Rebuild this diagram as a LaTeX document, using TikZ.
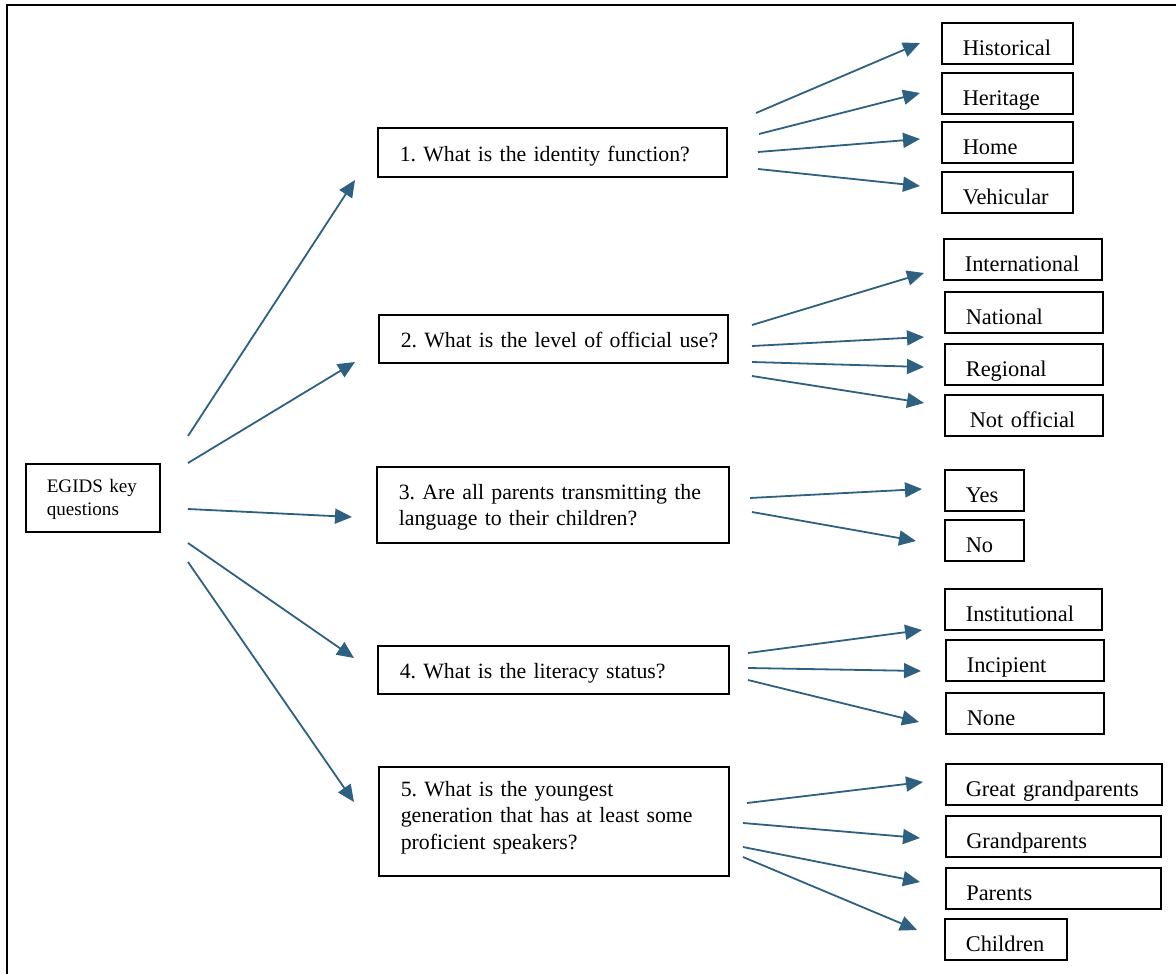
\documentclass[tikz,border=0pt]{standalone}
\usepackage{fontspec}
\setmainfont{Liberation Serif}
\usetikzlibrary{arrows.meta}
\definecolor{arrowblue}{RGB}{46,96,130}
\frenchspacing
\begin{document}
\begin{tikzpicture}[x=1pt,y=-1pt,
  box/.style={draw=black, line width=1.6pt, rectangle, anchor=north west, align=left,
    font=\fontsize{22.4}{26.7}\selectfont\frenchspacing},
  qbox/.style={box, inner xsep=22pt, font=\fontsize{21.8}{26.7}\selectfont\frenchspacing},
  one/.style={text height=25pt, text depth=7pt},
  rbox/.style={box, inner xsep=21pt, text height=27pt, text depth=3pt, inner ysep=5.5pt},
  arr/.style={draw=arrowblue, line width=1.8pt, -{Triangle[length=17pt,width=15pt]}},
  frame/.style={draw=black, line width=2.5pt}
]
\useasboundingbox (0,0) rectangle (1176,974);
\draw[frame] (7,974) -- (7,5) -- (1176,5);

% root
\node[box, inner xsep=21pt, text width=92pt, minimum height=68pt, inner ysep=0pt,
  font=\fontsize{19.1}{23.3}\selectfont] (egids) at (25,463) {\rule{0pt}{16pt}\mbox{EGIDS key}\\\mbox{questions}};

% questions
\node[qbox, one, text width=305pt, inner ysep=8.5pt] (q1) at (377,127) {\mbox{1. What is the identity function?}};
\node[qbox, one, text width=305pt, inner ysep=8pt] (q2) at (378,314) {\mbox{2. What is the level of official use?}};
\node[qbox, text width=308pt, minimum height=76pt, inner ysep=0pt] (q3) at (376,466) {\rule{0pt}{20pt}\mbox{3. Are all parents transmitting the}\\\mbox{language to their children?}};
\node[qbox, one, text width=307pt, inner ysep=8pt] (q4) at (377,645) {\mbox{4. What is the literacy status?}};
\node[qbox, text width=306pt, minimum height=109pt, inner ysep=0pt] (q5) at (378,766) {\mbox{5. What is the youngest}\\\mbox{generation that has at least some}\\\mbox{proficient speakers?}\rule[-12pt]{0pt}{0pt}};

% answers
\node[rbox, text width=89pt] (a11) at (941,22) {Historical};
\node[rbox, text width=89pt] (a12) at (941,72) {Heritage};
\node[rbox, text width=89pt] (a13) at (941,121) {Home};
\node[rbox, text width=89pt] (a14) at (941,171) {Vehicular};
\node[rbox, text width=116pt] (a21) at (943,238) {International};
\node[rbox, text width=116pt] (a22) at (944,291) {National};
\node[rbox, text width=116pt] (a23) at (944,343) {Regional};
\node[rbox, text width=116pt] (a24) at (944,394) {\hspace{4pt}\mbox{Not official}};
\node[rbox, text width=37pt] (a31) at (944,469) {Yes};
\node[rbox, text width=37pt] (a32) at (944,519) {No};
\node[rbox, text width=115pt] (a41) at (944,588) {Institutional};
\node[rbox, text width=116pt] (a42) at (945,639) {Incipient};
\node[rbox, text width=116pt] (a43) at (945,692) {None};
\node[rbox, text width=176pt, inner xsep=20pt] (a51) at (945,763) {\mbox{Great grandparents}};
\node[rbox, text width=174pt, inner xsep=20.5pt] (a52) at (945,815) {Grandparents};
\node[rbox, text width=174pt, inner xsep=20.5pt] (a53) at (945,867) {Parents};
\node[rbox, text width=80pt] (a54) at (944,918) {Children};

% arrow end points
\coordinate (r1) at (188,436); \coordinate (t1) at (355,180);
\coordinate (r2) at (188,463); \coordinate (t2) at (355,362);
\coordinate (r3) at (188,509); \coordinate (t3) at (352,517);
\coordinate (r4) at (188,543); \coordinate (t4) at (354,658);
\coordinate (r5) at (188,562); \coordinate (t5) at (354,802);

\coordinate (s11) at (756,113); \coordinate (e11) at (920,43);
\coordinate (s12) at (759,134); \coordinate (e12) at (920,93);
\coordinate (s13) at (758,152); \coordinate (e13) at (920,139);
\coordinate (s14) at (758,169); \coordinate (e14) at (920,186);

\coordinate (s21) at (752,325); \coordinate (e21) at (924,273);
\coordinate (s22) at (752,346); \coordinate (e22) at (924,337);
\coordinate (s23) at (752,362); \coordinate (e23) at (924,367);
\coordinate (s24) at (752,376); \coordinate (e24) at (924,403);

\coordinate (s31) at (750,498); \coordinate (e31) at (922,489);
\coordinate (s32) at (752,512); \coordinate (e32) at (916,541);

\coordinate (s41) at (748,653); \coordinate (e41) at (922,630);
\coordinate (s42) at (748,668); \coordinate (e42) at (921,671);
\coordinate (s43) at (748,680); \coordinate (e43) at (919,722);

\coordinate (s51) at (747,803); \coordinate (e51) at (923,782);
\coordinate (s52) at (743,823); \coordinate (e52) at (920,838);
\coordinate (s53) at (743,847); \coordinate (e53) at (920,882);
\coordinate (s54) at (743,857); \coordinate (e54) at (917,930);

\foreach \i in {1,...,5} { \draw[arr] (r\i) -- (t\i); }
\foreach \i in {1,...,4} { \draw[arr] (s1\i) -- (e1\i); }
\foreach \i in {1,...,4} { \draw[arr] (s2\i) -- (e2\i); }
\foreach \i in {1,2} { \draw[arr] (s3\i) -- (e3\i); }
\foreach \i in {1,2,3} { \draw[arr] (s4\i) -- (e4\i); }
\foreach \i in {1,...,4} { \draw[arr] (s5\i) -- (e5\i); }
\end{tikzpicture}
\end{document}
